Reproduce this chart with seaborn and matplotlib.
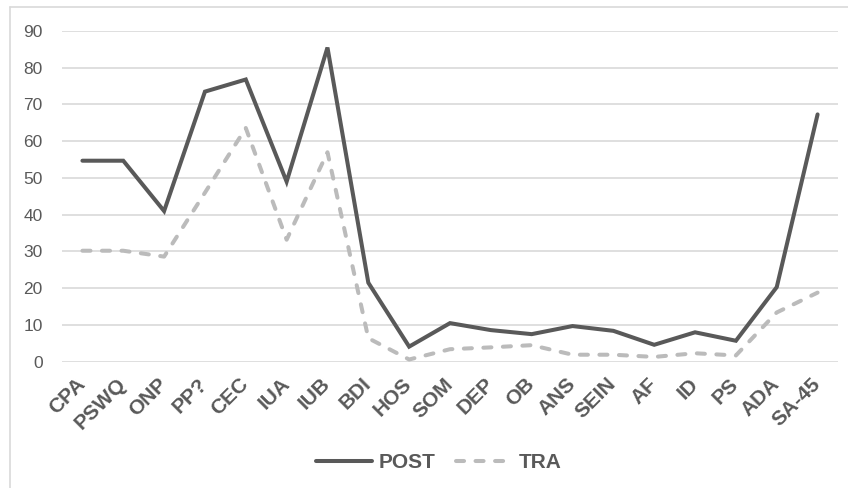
import matplotlib
matplotlib.use("Agg")
import matplotlib.pyplot as plt
from matplotlib.lines import Line2D
import seaborn as sns
import pandas as pd

categories = ["CPA", "PSWQ", "ONP", "PP?", "CEC", "IUA", "IUB", "BDI", "HOS", "SOM",
              "DEP", "OB", "ANS", "SEIN", "AF", "ID", "PS", "ADA", "SA-45"]
post_values = [54.7, 54.7, 41.0, 73.5, 76.8, 49.0, 85.5, 21.5, 4.1, 10.5,
               8.6, 7.5, 9.7, 8.4, 4.6, 8.0, 5.7, 20.3, 67.3]
tra_values = [30.2, 30.2, 28.6, 46.0, 63.6, 33.2, 57.0, 6.4, 0.6, 3.4,
              3.9, 4.5, 1.9, 1.9, 1.3, 2.3, 1.7, 13.4, 18.8]
series_names = ["POST", "TRA"]

df = pd.DataFrame({
    "category": categories * 2,
    "x": list(range(len(categories))) * 2,
    "value": post_values + tra_values,
    "series": [series_names[0]] * len(categories) + [series_names[1]] * len(categories),
})

sns.set_theme(style="white")
plt.rcParams["font.family"] = ["Liberation Sans", "DejaVu Sans"]

text_color = "#595959"
grid_color = "#D9D9D9"
palette = {"POST": "#595959", "TRA": "#BBBBBB"}

fig = plt.figure(figsize=(8.48, 4.88), dpi=100)
ax = fig.add_axes([62 / 848, 1 - 361.7 / 488, 776 / 848, (361.7 - 31) / 488])

sns.lineplot(data=df, x="x", y="value", hue="series", style="series",
             palette=palette, dashes={"POST": "", "TRA": (2.0, 2.85)},
             linewidth=2.9, ax=ax, legend=False, sort=False)
for line in ax.get_lines():
    line.set_solid_capstyle("round")
    line.set_dash_capstyle("round")
    line.set_solid_joinstyle("miter")

ax.set_xlim(-0.5, len(categories) - 0.5)
ax.set_ylim(0, 90)
ax.set_yticks(range(0, 91, 10))
ax.set_xticks(range(len(categories)))
ax.set_xticklabels(categories, rotation=45, ha="right", va="center",
                   rotation_mode="anchor", fontsize=15, fontweight="bold",
                   color=text_color)
ax.tick_params(axis="x", pad=14, length=0)
ax.tick_params(axis="y", labelsize=12.5, labelcolor=text_color, length=0, pad=14)
ax.yaxis.grid(True, color=grid_color, linewidth=1.2)
ax.set_axisbelow(True)
for s in ax.spines.values():
    s.set_visible(False)
ax.set_xlabel("")
ax.set_ylabel("")

handles = [Line2D([0], [0], color=palette["POST"], lw=2.9, solid_capstyle="round"),
           Line2D([0], [0], color=palette["TRA"], lw=2.9, dashes=(2.0, 2.85),
                  dash_capstyle="round")]
fig.legend(handles, series_names, loc="center", bbox_to_anchor=(439 / 848, 1 - 463 / 488),
           ncol=2, frameon=False, handlelength=2.7, handletextpad=0.3,
           columnspacing=1.0, prop={"size": 15, "weight": "bold"},
           labelcolor=text_color)

# chart area border (left and top edges)
fig.add_artist(Line2D([10 / 848, 10 / 848], [0, 1 - 7 / 488], color=grid_color,
                      lw=1.2, transform=fig.transFigure))
fig.add_artist(Line2D([10 / 848, 1], [1 - 7 / 488, 1 - 7 / 488], color=grid_color,
                      lw=1.2, transform=fig.transFigure))

fig.savefig("out.png", dpi=100)
